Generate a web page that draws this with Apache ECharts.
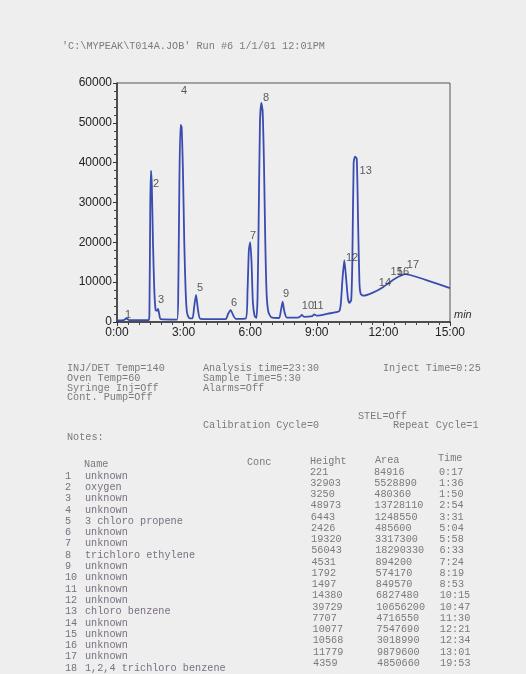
<!DOCTYPE html>
<html>
<head>
<meta charset="utf-8">
<script src="https://cdn.jsdelivr.net/npm/echarts@6/dist/echarts.min.js"></script>
<style>
html, body { margin: 0; padding: 0; background: #eeeeee; }
#main { width: 526px; height: 674px; }
</style>
</head>
<body>
<div id="main"></div>
<script>
// 色谱图数据 (时间 min, 信号) 从图上读取
let trace = [
	[0, 400], [0.3, 450], [0.43, 900], [0.55, 450], [1.42, 450],
	[1.46, 2000], [1.5, 30000], [1.53, 38000], [1.57, 34000], [1.62, 20000], [1.68, 8000], [1.74, 3000],
	[1.8, 2800], [1.85, 3300], [1.9, 2000], [1.97, 700], [2.7, 600],
	[2.76, 8000], [2.81, 35000], [2.86, 49500], [2.91, 49000], [2.97, 38000], [3.03, 20000], [3.09, 8000], [3.15, 2500], [3.25, 1000],
	[3.4, 900], [3.47, 3500], [3.56, 6800], [3.65, 3000], [3.76, 800], [4.9, 700],
	[5.0, 2000], [5.12, 3000], [5.25, 1500], [5.35, 800], [5.8, 900],
	[5.88, 8000], [5.94, 18000], [6.0, 20000], [6.06, 15000], [6.12, 5000], [6.2, 1500], [6.28, 1000],
	[6.33, 6000], [6.38, 25000], [6.44, 50000], [6.5, 55000], [6.56, 53000], [6.62, 40000], [6.68, 20000], [6.74, 7000], [6.82, 2500], [6.95, 1200], [7.3, 1000],
	[7.38, 2800], [7.46, 5100], [7.54, 2600], [7.65, 1100], [8.15, 1100],
	[8.25, 1400], [8.33, 1800], [8.42, 1300], [8.8, 1500], [8.88, 1900], [9.0, 1600],
	[9.5, 2100], [10.0, 2700], [10.08, 4500], [10.16, 11000], [10.24, 15500], [10.32, 11000], [10.4, 6000], [10.47, 4800],
	[10.55, 5500], [10.6, 15000], [10.66, 40000], [10.72, 41500], [10.8, 41000], [10.86, 25000], [10.92, 10000], [10.98, 7000], [11.1, 6600],
	[11.5, 7300], [12.0, 8800], [12.5, 10800], [13.0, 12000], [13.2, 11800], [14.0, 10400], [15.0, 8500]
];
// 峰编号标签位置
let peakNums = ['1', '2', '3', '4', '5', '6', '7', '8', '9', '10', '11', '12', '13', '14', '15', '16', '17'];
let peakLabelTimes = [0.5, 1.76, 1.98, 3.02, 3.74, 5.27, 6.13, 6.71, 7.61, 8.6, 9.05, 10.59, 11.2, 12.07, 12.6, 12.88, 13.33];
let peakLabelLevels = [1750, 34750, 5500, 58000, 8500, 4750, 21500, 56250, 7000, 4000, 4000, 16000, 38000, 9750, 12500, 12500, 14250];
// 轴刻度
let xTicks = ['0:00', '3:00', '6:00', '9:00', '12:00', '15:00'];
let yTicks = [0, 10000, 20000, 30000, 40000, 50000, 60000];

// 表格数据
let names = ['unknown', 'oxygen', 'unknown', 'unknown', '3 chloro propene', 'unknown', 'unknown', 'trichloro ethylene',
	'unknown', 'unknown', 'unknown', 'unknown', 'chloro benzene', 'unknown', 'unknown', 'unknown', 'unknown', '1,2,4 trichloro benzene'];
let heights = [221, 32903, 3250, 48973, 6443, 2426, 19320, 56043, 4531, 1792, 1497, 14380, 39729, 7707, 10077, 10568, 11779, 4359];
let areas = [84916, 5528890, 480360, 13728110, 1248550, 485600, 3317300, 18290330, 894200, 574170, 849570, 6827480, 10656200, 4716550, 7547690, 3018990, 9879600, 4850660];
let times = ['0:17', '1:36', '1:50', '2:54', '3:31', '5:04', '5:58', '6:33', '7:24', '8:19', '8:53', '10:15', '10:47', '11:30', '12:21', '12:34', '13:01', '19:53'];

// 运行参数文字
let headerText = "'C:\\MYPEAK\\T014A.JOB' Run #6 1/1/01 12:01PM";
let infoLines = [
	['INJ/DET Temp=140', 67, 368], ['Analysis time=23:30', 203, 368], ['Inject Time=0:25', 383, 368],
	['Oven Temp=60', 67, 378], ['Sample Time=5:30', 203, 378],
	['Syringe Inj=Off', 67, 388], ['Alarms=Off', 203, 388],
	['Cont. Pump=Off', 67, 397],
	['STEL=Off', 358, 416],
	['Calibration Cycle=0', 203, 425], ['Repeat Cycle=1', 393, 425],
	['Notes:', 67, 437]
];

let mono = '10.2px "Liberation Mono", "DejaVu Sans Mono", monospace';
let textColor = '#7a7a7a';
let nameColor = '#7a7080';

function txt(text, x, y, color) {
	return {
		type: 'text',
		x: x,
		y: y,
		silent: true,
		style: {
			text: text,
			font: mono,
			fill: color || textColor,
			verticalAlign: 'middle'
		}
	};
}

let graphics = [];
graphics.push(txt(headerText, 62, 46));
infoLines.forEach(function(l) {
	graphics.push(txt(l[0], l[1], l[2]));
});
graphics.push(txt('Name', 84, 464));
graphics.push(txt('Conc', 247, 462));
graphics.push(txt('Height', 310, 461));
graphics.push(txt('Area', 375, 460));
graphics.push(txt('Time', 438, 458));
for (let i = 0; i < names.length; i++) {
	let yn = 476 + i * 11.3;
	let yv = 472 + i * 11.24;
	graphics.push(txt(String(i + 1), 65, yn, nameColor));
	graphics.push(txt(names[i], 85, yn, nameColor));
	graphics.push(txt(String(heights[i]), 310 + i * 0.18, yv));
	graphics.push(txt(String(areas[i]), 374 + i * 0.18, yv));
	graphics.push(txt(times[i], 439 + i * 0.06, yv));
}

let labelData = [];
for (let i = 0; i < peakNums.length; i++) {
	labelData.push({ name: peakNums[i], value: [peakLabelTimes[i], peakLabelLevels[i]] });
}

let myChart = echarts.init(document.getElementById('main'));
myChart.setOption({
	backgroundColor: '#eeeeee',
	animation: false,
	grid: {
		left: 117,
		top: 83,
		width: 333,
		height: 239,
		show: true,
		borderColor: '#555',
		borderWidth: 1
	},
	xAxis: {
		type: 'value',
		min: 0,
		max: 15,
		interval: 3,
		name: 'min',
		nameLocation: 'end',
		nameGap: 4,
		nameTextStyle: { fontStyle: 'italic', fontSize: 11, color: '#333', verticalAlign: 'bottom', padding: [0, 0, 2, 0] },
		axisLine: { onZero: false, lineStyle: { color: '#333', width: 1.5 } },
		axisTick: { show: true, length: 4, lineStyle: { color: '#333' } },
		minorTick: { show: true, splitNumber: 6, length: 3, lineStyle: { color: '#444' } },
		splitLine: { show: false },
		axisLabel: {
			color: '#222',
			fontSize: 12,
			fontFamily: '"Liberation Sans", Arial, sans-serif',
			margin: 5,
			formatter: function(v) {
				return xTicks[Math.round(v / 3)];
			}
		}
	},
	yAxis: {
		type: 'value',
		min: yTicks[0],
		max: yTicks[yTicks.length - 1],
		interval: 10000,
		axisLine: { show: true, lineStyle: { color: '#333', width: 1.5 } },
		axisTick: { show: true, length: 4, lineStyle: { color: '#333' } },
		minorTick: { show: true, splitNumber: 5, length: 3, lineStyle: { color: '#444' } },
		splitLine: { show: false },
		axisLabel: {
			color: '#222',
			fontSize: 12,
			fontFamily: '"Liberation Sans", Arial, sans-serif',
			margin: 5,
			formatter: function(v) {
				return String(v);
			}
		}
	},
	graphic: graphics,
	series: [{
		type: 'line',
		data: trace,
		symbol: 'none',
		smooth: 0.2,
		lineStyle: { color: '#3a4cb0', width: 1.8 },
		z: 2
	}, {
		type: 'scatter',
		data: labelData,
		symbolSize: 0,
		label: {
			show: true,
			position: 'inside',
			formatter: '{b}',
			color: '#333',
			fontSize: 11,
			fontFamily: '"Liberation Sans", Arial, sans-serif'
		},
		z: 3
	}]
});
</script>
</body>
</html>
